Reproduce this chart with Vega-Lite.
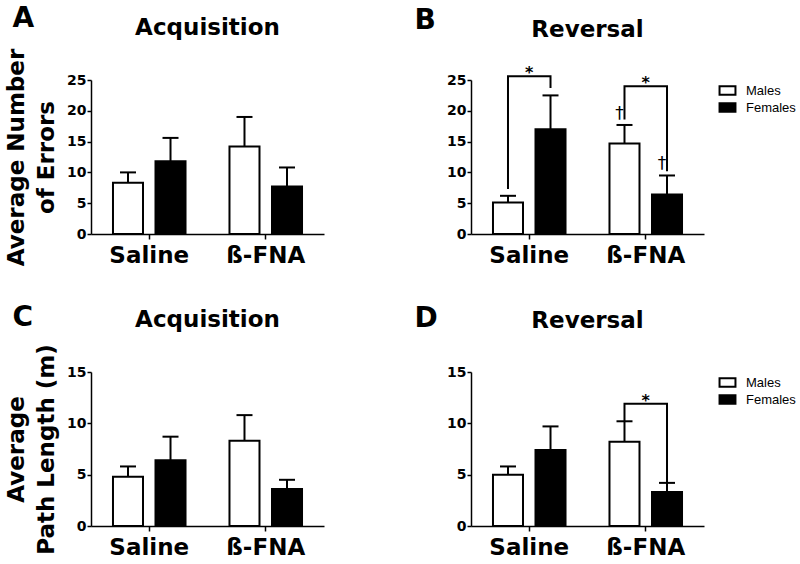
{
  "$schema": "https://vega.github.io/schema/vega-lite/v6.json",
  "datasets": {
    "acq_err": [
      {"treatment": "Saline", "sex": "Males", "mean": 8.3, "upper": 10.0},
      {"treatment": "Saline", "sex": "Females", "mean": 11.8, "upper": 15.6},
      {"treatment": "ß-FNA", "sex": "Males", "mean": 14.2, "upper": 19.0},
      {"treatment": "ß-FNA", "sex": "Females", "mean": 7.7, "upper": 10.8}
    ],
    "rev_err": [
      {"treatment": "Saline", "sex": "Males", "mean": 5.1, "upper": 6.2},
      {"treatment": "Saline", "sex": "Females", "mean": 17.0, "upper": 22.5},
      {"treatment": "ß-FNA", "sex": "Males", "mean": 14.7, "upper": 17.7},
      {"treatment": "ß-FNA", "sex": "Females", "mean": 6.4, "upper": 9.5}
    ],
    "acq_path": [
      {"treatment": "Saline", "sex": "Males", "mean": 4.8, "upper": 5.8},
      {"treatment": "Saline", "sex": "Females", "mean": 6.4, "upper": 8.7},
      {"treatment": "ß-FNA", "sex": "Males", "mean": 8.3, "upper": 10.8},
      {"treatment": "ß-FNA", "sex": "Females", "mean": 3.6, "upper": 4.5}
    ],
    "rev_path": [
      {"treatment": "Saline", "sex": "Males", "mean": 5.0, "upper": 5.8},
      {"treatment": "Saline", "sex": "Females", "mean": 7.4, "upper": 9.7},
      {"treatment": "ß-FNA", "sex": "Males", "mean": 8.2, "upper": 10.2},
      {"treatment": "ß-FNA", "sex": "Females", "mean": 3.3, "upper": 4.2}
    ],
    "rev_err_brackets": [
      {"id": "s", "k": 1, "treatment": "Saline", "sex": "Males", "y": 7.3},
      {"id": "s", "k": 2, "treatment": "Saline", "sex": "Males", "y": 25.6},
      {"id": "s", "k": 3, "treatment": "Saline", "sex": "Females", "y": 25.6},
      {"id": "s", "k": 4, "treatment": "Saline", "sex": "Females", "y": 23.7},
      {"id": "b", "k": 1, "treatment": "ß-FNA", "sex": "Males", "y": 18.6},
      {"id": "b", "k": 2, "treatment": "ß-FNA", "sex": "Males", "y": 24.0},
      {"id": "b", "k": 3, "treatment": "ß-FNA", "sex": "Females", "y": 24.0},
      {"id": "b", "k": 4, "treatment": "ß-FNA", "sex": "Females", "y": 10.2}
    ],
    "rev_path_brackets": [
      {"id": "b", "k": 1, "treatment": "ß-FNA", "sex": "Males", "y": 10.2},
      {"id": "b", "k": 2, "treatment": "ß-FNA", "sex": "Males", "y": 11.9},
      {"id": "b", "k": 3, "treatment": "ß-FNA", "sex": "Females", "y": 11.9},
      {"id": "b", "k": 4, "treatment": "ß-FNA", "sex": "Females", "y": 4.2}
    ],
    "rev_err_stars": [
      {"treatment": "Saline", "y": 25.6, "label": "*"},
      {"treatment": "ß-FNA", "y": 24.0, "label": "*"}
    ],
    "rev_path_stars": [
      {"treatment": "ß-FNA", "y": 11.9, "label": "*"}
    ],
    "rev_err_daggers": [
      {"treatment": "ß-FNA", "sex": "Males", "y": 19.4, "label": "†"},
      {"treatment": "ß-FNA", "sex": "Females", "y": 11.3, "label": "†"}
    ]
  },
  "resolve": {"legend": {"fill": "independent"}},
  "spacing": 36,
  "vconcat": [
    {
      "resolve": {"legend": {"fill": "independent"}},
      "spacing": 90,
      "hconcat": [
        {
          "title": {"text": "A", "anchor": "start", "frame": "bounds", "fontSize": 28, "baseline": "alphabetic", "offset": -38, "dx": 7},
          "resolve": {"legend": {"fill": "independent"}},
          "hconcat": [
            {
              "width": 233, "height": 154,
              "title": {"text": "Acquisition", "anchor": "middle", "frame": "group", "fontSize": 23, "baseline": "alphabetic", "offset": -10},
              "data": {"name": "acq_err"},
              "encoding": {
                "x": {"field": "treatment", "type": "nominal", "sort": ["Saline", "ß-FNA"], "scale": {"paddingInner": 0, "paddingOuter": 0}, "axis": {"title": null}},
                "xOffset": {"field": "sex", "type": "nominal", "sort": ["Males", "Females"], "scale": {"paddingInner": 0.294, "paddingOuter": 0.517}}
              },
              "layer": [
                {"mark": {"type": "bar", "stroke": "black", "strokeWidth": 2},
                 "encoding": {
                   "y": {"field": "mean", "type": "quantitative", "scale": {"domain": [0, 25], "nice": false}, "axis": {"values": [0, 5, 10, 15, 20, 25], "title": ["Average Number", "of Errors"]}},
                   "fill": {"field": "sex", "type": "nominal", "scale": {"domain": ["Males", "Females"], "range": ["white", "black"]}, "legend": null}}},
                {"mark": {"type": "rule", "strokeWidth": 2, "color": "black"},
                 "encoding": {"y": {"field": "mean", "type": "quantitative", "axis": {"values": [0, 5, 10, 15, 20, 25], "title": ["Average Number", "of Errors"]}}, "y2": {"field": "upper"}}},
                {"mark": {"type": "tick", "thickness": 2, "size": 16, "color": "black", "opacity": 1},
                 "encoding": {"y": {"field": "upper", "type": "quantitative", "axis": {"values": [0, 5, 10, 15, 20, 25], "title": ["Average Number", "of Errors"]}}}}
              ]
            }
          ]
        },
        {
          "title": {"text": "B", "anchor": "start", "frame": "bounds", "fontSize": 28, "baseline": "alphabetic", "offset": -38, "dx": -32},
          "resolve": {"legend": {"fill": "independent"}},
          "hconcat": [
            {
              "width": 233, "height": 154,
              "title": {"text": "Reversal", "anchor": "middle", "frame": "group", "fontSize": 23, "baseline": "alphabetic", "offset": 5},
              "encoding": {
                "x": {"field": "treatment", "type": "nominal", "sort": ["Saline", "ß-FNA"], "scale": {"paddingInner": 0, "paddingOuter": 0}, "axis": {"title": null}}
              },
              "layer": [
                {"data": {"name": "rev_err"}, "mark": {"type": "bar", "stroke": "black", "strokeWidth": 2},
                 "encoding": {
                   "xOffset": {"field": "sex", "type": "nominal", "sort": ["Males", "Females"], "scale": {"paddingInner": 0.294, "paddingOuter": 0.517}},
                   "y": {"field": "mean", "type": "quantitative", "scale": {"domain": [0, 25], "nice": false}, "axis": {"values": [0, 5, 10, 15, 20, 25], "title": null}},
                   "fill": {"field": "sex", "type": "nominal", "scale": {"domain": ["Males", "Females"], "range": ["white", "black"]},
                     "legend": {"orient": "right", "title": null, "offset": 13, "padding": 3, "symbolType": "M-1.3,-0.7L1.3,-0.7L1.3,0.7L-1.3,0.7Z", "symbolSize": 150, "symbolStrokeColor": "black", "symbolStrokeWidth": 2, "labelFont": "Liberation Sans", "labelFontSize": 13, "labelColor": "black", "labelOffset": 11, "rowPadding": 0}}}},
                {"data": {"name": "rev_err"}, "mark": {"type": "rule", "strokeWidth": 2, "color": "black"},
                 "encoding": {"xOffset": {"field": "sex", "type": "nominal", "sort": ["Males", "Females"]}, "y": {"field": "mean", "type": "quantitative", "axis": {"values": [0, 5, 10, 15, 20, 25], "title": null}}, "y2": {"field": "upper"}}},
                {"data": {"name": "rev_err"}, "mark": {"type": "tick", "thickness": 2, "size": 16, "color": "black", "opacity": 1},
                 "encoding": {"xOffset": {"field": "sex", "type": "nominal", "sort": ["Males", "Females"]}, "y": {"field": "upper", "type": "quantitative", "axis": {"values": [0, 5, 10, 15, 20, 25], "title": null}}}},
                {"data": {"name": "rev_err_brackets"}, "mark": {"type": "line", "strokeWidth": 2, "color": "black", "clip": false, "strokeJoin": "miter"},
                 "encoding": {"xOffset": {"field": "sex", "type": "nominal", "sort": ["Males", "Females"]}, "y": {"field": "y", "type": "quantitative", "axis": {"values": [0, 5, 10, 15, 20, 25], "title": null}}, "order": {"field": "k"}, "detail": {"field": "id"}}},
                {"data": {"name": "rev_err_stars"}, "mark": {"type": "text", "fontSize": 16, "fontWeight": "bold", "baseline": "alphabetic", "dy": 2, "color": "black"},
                 "encoding": {"y": {"field": "y", "type": "quantitative", "axis": {"values": [0, 5, 10, 15, 20, 25], "title": null}}, "text": {"field": "label"}}},
                {"data": {"name": "rev_err_daggers"}, "mark": {"type": "text", "fontSize": 17, "baseline": "middle", "dx": -5, "color": "black"},
                 "encoding": {"xOffset": {"field": "sex", "type": "nominal", "sort": ["Males", "Females"]}, "y": {"field": "y", "type": "quantitative", "axis": {"values": [0, 5, 10, 15, 20, 25], "title": null}}, "text": {"field": "label"}}}
              ]
            }
          ]
        }
      ]
    },
    {
      "resolve": {"legend": {"fill": "independent"}},
      "spacing": 90,
      "hconcat": [
        {
          "title": {"text": "C", "anchor": "start", "frame": "bounds", "fontSize": 28, "baseline": "alphabetic", "offset": -45, "dx": 7},
          "resolve": {"legend": {"fill": "independent"}},
          "hconcat": [
            {
              "width": 233, "height": 154,
              "title": {"text": "Acquisition", "anchor": "middle", "frame": "group", "fontSize": 23, "baseline": "alphabetic", "offset": -6},
              "data": {"name": "acq_path"},
              "encoding": {
                "x": {"field": "treatment", "type": "nominal", "sort": ["Saline", "ß-FNA"], "scale": {"paddingInner": 0, "paddingOuter": 0}, "axis": {"title": null}},
                "xOffset": {"field": "sex", "type": "nominal", "sort": ["Males", "Females"], "scale": {"paddingInner": 0.294, "paddingOuter": 0.517}}
              },
              "layer": [
                {"mark": {"type": "bar", "stroke": "black", "strokeWidth": 2},
                 "encoding": {
                   "y": {"field": "mean", "type": "quantitative", "scale": {"domain": [0, 15], "nice": false}, "axis": {"values": [0, 5, 10, 15], "title": ["Average", "Path Length (m)"]}},
                   "fill": {"field": "sex", "type": "nominal", "scale": {"domain": ["Males", "Females"], "range": ["white", "black"]}, "legend": null}}},
                {"mark": {"type": "rule", "strokeWidth": 2, "color": "black"},
                 "encoding": {"y": {"field": "mean", "type": "quantitative", "axis": {"values": [0, 5, 10, 15], "title": ["Average", "Path Length (m)"]}}, "y2": {"field": "upper"}}},
                {"mark": {"type": "tick", "thickness": 2, "size": 16, "color": "black", "opacity": 1},
                 "encoding": {"y": {"field": "upper", "type": "quantitative", "axis": {"values": [0, 5, 10, 15], "title": ["Average", "Path Length (m)"]}}}}
              ]
            }
          ]
        },
        {
          "title": {"text": "D", "anchor": "start", "frame": "bounds", "fontSize": 28, "baseline": "alphabetic", "offset": -45, "dx": -32},
          "resolve": {"legend": {"fill": "independent"}},
          "hconcat": [
            {
              "width": 233, "height": 154,
              "title": {"text": "Reversal", "anchor": "middle", "frame": "group", "fontSize": 23, "baseline": "alphabetic", "offset": 14},
              "encoding": {
                "x": {"field": "treatment", "type": "nominal", "sort": ["Saline", "ß-FNA"], "scale": {"paddingInner": 0, "paddingOuter": 0}, "axis": {"title": null}}
              },
              "layer": [
                {"data": {"name": "rev_path"}, "mark": {"type": "bar", "stroke": "black", "strokeWidth": 2},
                 "encoding": {
                   "xOffset": {"field": "sex", "type": "nominal", "sort": ["Males", "Females"], "scale": {"paddingInner": 0.294, "paddingOuter": 0.517}},
                   "y": {"field": "mean", "type": "quantitative", "scale": {"domain": [0, 15], "nice": false}, "axis": {"values": [0, 5, 10, 15], "title": null}},
                   "fill": {"field": "sex", "type": "nominal", "scale": {"domain": ["Males", "Females"], "range": ["white", "black"]},
                     "legend": {"orient": "right", "title": null, "offset": 13, "padding": 3, "symbolType": "M-1.3,-0.7L1.3,-0.7L1.3,0.7L-1.3,0.7Z", "symbolSize": 150, "symbolStrokeColor": "black", "symbolStrokeWidth": 2, "labelFont": "Liberation Sans", "labelFontSize": 13, "labelColor": "black", "labelOffset": 11, "rowPadding": 0}}}},
                {"data": {"name": "rev_path"}, "mark": {"type": "rule", "strokeWidth": 2, "color": "black"},
                 "encoding": {"xOffset": {"field": "sex", "type": "nominal", "sort": ["Males", "Females"]}, "y": {"field": "mean", "type": "quantitative", "axis": {"values": [0, 5, 10, 15], "title": null}}, "y2": {"field": "upper"}}},
                {"data": {"name": "rev_path"}, "mark": {"type": "tick", "thickness": 2, "size": 16, "color": "black", "opacity": 1},
                 "encoding": {"xOffset": {"field": "sex", "type": "nominal", "sort": ["Males", "Females"]}, "y": {"field": "upper", "type": "quantitative", "axis": {"values": [0, 5, 10, 15], "title": null}}}},
                {"data": {"name": "rev_path_brackets"}, "mark": {"type": "line", "strokeWidth": 2, "color": "black", "clip": false, "strokeJoin": "miter"},
                 "encoding": {"xOffset": {"field": "sex", "type": "nominal", "sort": ["Males", "Females"]}, "y": {"field": "y", "type": "quantitative", "axis": {"values": [0, 5, 10, 15], "title": null}}, "order": {"field": "k"}, "detail": {"field": "id"}}},
                {"data": {"name": "rev_path_stars"}, "mark": {"type": "text", "fontSize": 16, "fontWeight": "bold", "baseline": "alphabetic", "dy": 2, "color": "black"},
                 "encoding": {"y": {"field": "y", "type": "quantitative", "axis": {"values": [0, 5, 10, 15], "title": null}}, "text": {"field": "label"}}}
              ]
            }
          ]
        }
      ]
    }
  ],
  "config": {
    "font": "DejaVu Sans",
    "view": {"stroke": null},
    "title": {"font": "DejaVu Sans", "fontWeight": "bold", "color": "black"},
    "axis": {"domainColor": "black", "domainWidth": 1.5, "tickColor": "black", "tickWidth": 1.5, "labelColor": "black", "titleColor": "black", "grid": false, "labelFont": "DejaVu Sans", "labelFontWeight": "bold", "titleFont": "DejaVu Sans", "titleFontWeight": "bold"},
    "axisY": {"labelFontSize": 14, "tickSize": 4, "labelPadding": 1, "labelOverlap": false, "titleFontSize": 23, "titleLineHeight": 30, "titlePadding": 8},
    "axisX": {"labelFontSize": 23, "labelAngle": 0, "tickSize": 5, "labelPadding": 5}
  }
}
